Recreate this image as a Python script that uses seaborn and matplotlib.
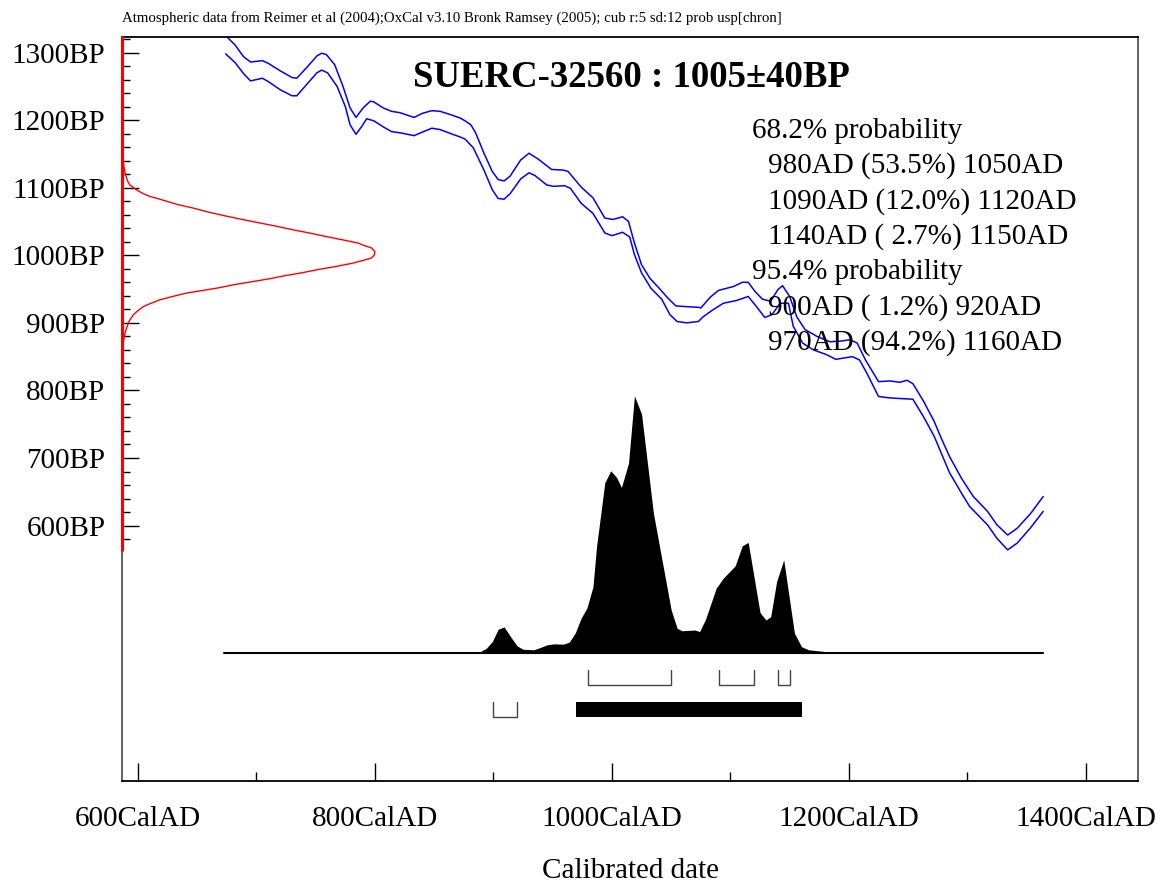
import numpy as np
import seaborn as sns
import matplotlib.pyplot as plt
from matplotlib.ticker import FixedLocator

sns.set_style('white')
plt.rcParams['font.family'] = ['Liberation Serif', 'DejaVu Serif']
plt.rcParams['text.color'] = 'black'
plt.rcParams['axes.labelcolor'] = 'black'
plt.rcParams['xtick.color'] = 'black'
plt.rcParams['ytick.color'] = 'black'

# calibration curve, upper and lower 1-sigma edges (cal AD, BP)
cal_upper = [674, 682, 689, 695, 705, 710, 720, 730, 734, 742, 751, 755, 759, 766, 773, 779,
             784, 790, 796, 799, 807, 814, 821, 833, 840, 848, 855, 864, 872, 876, 881, 885,
             892, 899, 904, 909, 914, 923, 930, 938, 949, 959, 963, 974, 984, 994, 1001, 1009,
             1014, 1019, 1025, 1032, 1040, 1047, 1054, 1063, 1073, 1075, 1083, 1090, 1103, 1110,
             1115, 1121, 1127, 1134, 1140, 1144, 1150, 1156, 1163, 1173, 1184, 1193, 1201, 1207,
             1214, 1225, 1235, 1243, 1249, 1254, 1263, 1272, 1278, 1285, 1295, 1305, 1317, 1325,
             1334, 1342, 1353, 1364]
bp_upper = [1325, 1311, 1294, 1286, 1288, 1284, 1273, 1263, 1262, 1277, 1295, 1299, 1297, 1282,
            1250, 1218, 1204, 1218, 1228, 1227, 1218, 1213, 1211, 1204, 1210, 1214, 1213, 1208,
            1203, 1199, 1193, 1181, 1151, 1124, 1112, 1110, 1117, 1141, 1151, 1142, 1127, 1126,
            1124, 1101, 1085, 1055, 1053, 1057, 1050, 1018, 986, 966, 951, 937, 925, 924, 923,
            922, 938, 948, 954, 960, 960, 946, 935, 932, 949, 955, 939, 909, 890, 880, 872, 873,
            875, 870, 845, 813, 814, 812, 815, 810, 784, 754, 729, 702, 670, 643, 621, 601, 586,
            596, 617, 643]
cal_lower = [674, 682, 689, 695, 705, 710, 720, 730, 734, 742, 751, 755, 760, 768, 775, 779,
             784, 789, 793, 799, 807, 814, 822, 833, 841, 848, 855, 864, 872, 876, 883, 892,
             899, 904, 909, 914, 923, 930, 935, 945, 951, 960, 965, 974, 984, 994, 1000, 1009,
             1015, 1019, 1025, 1033, 1042, 1049, 1055, 1063, 1073, 1077, 1085, 1094, 1105, 1115,
             1122, 1129, 1135, 1142, 1149, 1153, 1161, 1170, 1181, 1189, 1203, 1209, 1215, 1225,
             1234, 1243, 1254, 1263, 1272, 1278, 1285, 1295, 1302, 1317, 1325, 1334, 1342, 1353,
             1364]
bp_lower = [1298, 1285, 1269, 1258, 1262, 1257, 1245, 1236, 1236, 1252, 1270, 1274, 1270, 1250,
            1220, 1193, 1179, 1191, 1202, 1199, 1190, 1183, 1181, 1177, 1183, 1188, 1186, 1180,
            1175, 1172, 1159, 1126, 1097, 1084, 1083, 1091, 1113, 1122, 1118, 1104, 1102, 1103,
            1099, 1077, 1062, 1033, 1029, 1034, 1027, 1001, 974, 951, 935, 912, 902, 900, 902,
            909, 919, 929, 933, 939, 924, 908, 912, 929, 929, 895, 870, 860, 853, 846, 850, 845,
            826, 791, 789, 788, 787, 761, 732, 707, 678, 648, 628, 601, 581, 564, 574, 596, 621]

# radiocarbon measurement 1005 +/- 40 BP, relative probability along the BP axis
rc_bp = [564, 850, 870, 877, 885, 892, 900, 906, 912, 918, 924, 929, 934, 939, 944, 948, 952,
         957, 961, 965, 970, 974, 979, 983, 988, 992, 996, 1000, 1005, 1011, 1014, 1018, 1023,
         1028, 1033, 1038, 1043, 1048, 1053, 1058, 1064, 1070, 1075, 1080, 1084, 1087, 1092,
         1097, 1104, 1110, 1117, 1124, 1131, 1146, 1323]
rc_prob = [0.0, 0.003, 0.005, 0.008, 0.012, 0.018, 0.025, 0.034, 0.045, 0.063, 0.084, 0.115,
           0.149, 0.200, 0.254, 0.320, 0.385, 0.450, 0.516, 0.580, 0.647, 0.710, 0.777, 0.840,
           0.908, 0.950, 0.986, 0.997, 1.0, 0.986, 0.960, 0.934, 0.870, 0.803, 0.740, 0.672,
           0.610, 0.542, 0.475, 0.411, 0.340, 0.280, 0.220, 0.176, 0.140, 0.110, 0.080, 0.057,
           0.031, 0.022, 0.016, 0.011, 0.008, 0.003, 0.0]

# calibrated probability distribution (cal AD, relative probability)
cal_years = [673, 850, 880, 889, 894, 899, 904, 909, 914, 920, 925, 934, 939, 945, 951, 959,
             964, 969, 974, 979, 984, 987, 994, 999, 1004, 1008, 1014, 1019, 1025, 1035, 1050,
             1055, 1059, 1070, 1074, 1079, 1088, 1094, 1104, 1110, 1115, 1125, 1130, 1134, 1139,
             1145, 1154, 1160, 1166, 1180, 1201, 1250, 1364]
cal_prob = [0.0, 0.0005, 0.002, 0.004, 0.017, 0.043, 0.091, 0.100, 0.065, 0.026, 0.013, 0.011,
            0.019, 0.030, 0.034, 0.033, 0.041, 0.076, 0.134, 0.175, 0.257, 0.413, 0.662, 0.708,
            0.682, 0.643, 0.738, 1.0, 0.929, 0.543, 0.166, 0.095, 0.085, 0.088, 0.082, 0.130,
            0.251, 0.290, 0.338, 0.416, 0.429, 0.156, 0.127, 0.140, 0.277, 0.361, 0.076, 0.023,
            0.011, 0.004, 0.002, 0.001, 0.0]

# calibrated ranges
ranges_68 = [(980, 1050), (1090, 1120), (1140, 1150)]
ranges_95 = [(900, 920), (970, 1160)]
filled_95 = [False, True]

range_lines = ['68.2% probability',
               '980AD (53.5%) 1050AD',
               '1090AD (12.0%) 1120AD',
               '1140AD ( 2.7%) 1150AD',
               '95.4% probability',
               '900AD ( 1.2%) 920AD',
               '970AD (94.2%) 1160AD']

x_major = [600, 800, 1000, 1200, 1400]
x_minor = [700, 900, 1100, 1300]
y_major = [600, 700, 800, 900, 1000, 1100, 1200, 1300]

title = 'SUERC-32560 : 1005\u00b140BP'
header = ('Atmospheric data from Reimer et al (2004);OxCal v3.10 Bronk Ramsey (2005); '
          'cub r:5 sd:12 prob usp[chron]')

# layout constants
XMIN, XMAX = 586.5, 1444
YMIN, YMAX = 222, 1323
DIST_BASE, DIST_H = 412, 380
RC_AMP = 213.5

fig = plt.figure(figsize=(11.68, 8.86), dpi=100)
ax = fig.add_axes([122 / 1168, 1 - 781 / 886, 1016 / 1168, 744 / 886])

# calibration curve
sns.lineplot(x=cal_upper, y=bp_upper, ax=ax, color='#0000ff', lw=1.1, estimator=None, sort=False)
sns.lineplot(x=cal_lower, y=bp_lower, ax=ax, color='#0000ff', lw=1.1, estimator=None, sort=False)

# radiocarbon date on the y axis
rc_x = XMIN + RC_AMP * np.array(rc_prob)
sns.lineplot(x=rc_x, y=rc_bp, ax=ax, color='#ff0000', lw=1.0, estimator=None, sort=False)
ax.plot([XMIN, XMIN], [min(rc_bp), YMAX], color='#ff0000', lw=2.2, clip_on=False, zorder=5)

# calibrated distribution
dist_y = DIST_BASE + DIST_H * np.array(cal_prob)
ax.fill_between(cal_years, DIST_BASE, dist_y, color='black', lw=0)
ax.plot([cal_years[0], cal_years[-1]], [DIST_BASE, DIST_BASE], color='black', lw=1.5)

# range brackets
def bracket(lo, hi, top, bot):
    ax.plot([lo, lo, hi, hi], [top, bot, bot, top], color='#444444', lw=1.0)

for lo, hi in ranges_68:
    bracket(lo, hi, 386, 364)
for (lo, hi), full in zip(ranges_95, filled_95):
    if full:
        ax.fill_between([lo, hi], 317, 339, color='black', lw=0)
    else:
        bracket(lo, hi, 339, 317)

# texts
ax.text(1016, 1249, title, ha='center', va='baseline', fontsize=26.5, fontweight='bold',
        color='black')
for i, line in enumerate(range_lines):
    xpos = 1118 if 'probability' in line else 1131.5
    ax.text(xpos, 1173.7 - 52.2 * i, line, ha='left', va='baseline', fontsize=21, color='black')
fig.text(122 / 1168, 1 - 22 / 886, header, ha='left', va='baseline', fontsize=10.7,
         color='black')

# axes
ax.set_xlim(XMIN, XMAX)
ax.set_ylim(YMIN, YMAX)
ax.set_xticks(x_major)
ax.set_xticklabels([f'{v}CalAD' for v in x_major])
ax.xaxis.set_minor_locator(FixedLocator(x_minor))
ax.set_yticks(y_major)
ax.set_yticklabels([f'{v}BP' for v in y_major])
ax.yaxis.set_minor_locator(FixedLocator([v for v in range(580, 1321, 20) if v % 100]))
ax.tick_params(axis='x', which='both', bottom=True, top=False, direction='in', width=1,
               color='black')
ax.tick_params(axis='x', which='major', length=13, pad=18, labelsize=21)
ax.tick_params(axis='x', which='minor', length=6.5)
ax.tick_params(axis='y', which='both', left=True, right=False, direction='in', width=1,
               color='black')
ax.tick_params(axis='y', which='major', length=12, pad=12, labelsize=21)
ax.tick_params(axis='y', which='minor', length=6)
ax.set_xlabel('Calibrated date', fontsize=21, labelpad=19, color='black')
ax.set_ylabel('')
for side, sp in ax.spines.items():
    sp.set_visible(True)
    sp.set_color('black' if side in ('top', 'bottom') else '#555555')
    sp.set_linewidth(1.3)

fig.savefig('out.png', dpi=100, facecolor='white')
